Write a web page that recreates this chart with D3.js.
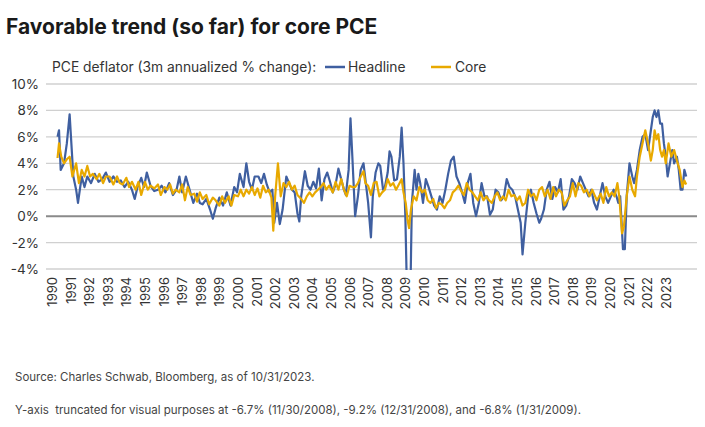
<!DOCTYPE html>
<html><head><meta charset="utf-8">
<script src="https://cdn.jsdelivr.net/npm/d3@7"></script>
<style>body{margin:0;background:#fff;font-family:Inter,Roboto,sans-serif}</style>
</head><body><svg id="c" width="705" height="427"></svg>
<script>
const headline = [[1990.0,6.0],[1990.08,6.5],[1990.17,3.5],[1990.35,4.0],[1990.5,5.5],[1990.65,7.7],[1990.85,3.0],[1991.0,2.0],[1991.1,1.0],[1991.3,3.0],[1991.45,2.2],[1991.6,3.0],[1991.8,2.5],[1992.0,3.2],[1992.2,2.6],[1992.4,2.8],[1992.6,3.3],[1992.8,2.6],[1993.0,3.0],[1993.2,2.6],[1993.4,2.7],[1993.6,2.2],[1993.8,2.6],[1994.0,2.0],[1994.15,1.3],[1994.3,2.2],[1994.5,2.9],[1994.65,2.2],[1994.8,3.3],[1995.0,2.3],[1995.2,1.9],[1995.4,2.0],[1995.6,2.3],[1995.8,1.8],[1996.0,2.5],[1996.2,1.6],[1996.4,2.0],[1996.55,3.0],[1996.7,1.8],[1996.9,3.0],[1997.1,2.0],[1997.3,1.0],[1997.5,1.7],[1997.65,1.0],[1997.8,0.9],[1998.0,1.3],[1998.2,0.5],[1998.35,-0.2],[1998.5,0.6],[1998.7,1.4],[1998.9,0.8],[1999.1,1.8],[1999.3,0.8],[1999.5,2.2],[1999.65,1.8],[1999.8,3.2],[2000.0,2.2],[2000.15,4.0],[2000.3,2.6],[2000.45,2.0],[2000.6,3.0],[2000.8,3.0],[2000.95,2.5],[2001.1,3.2],[2001.25,2.4],[2001.4,1.8],[2001.55,2.0],[2001.65,-0.5],[2001.8,1.0],[2001.95,-0.6],[2002.1,0.5],[2002.3,3.0],[2002.45,2.5],[2002.6,2.0],[2002.75,1.8],[2002.9,0.2],[2003.0,-0.4],[2003.1,1.5],[2003.3,3.4],[2003.45,2.3],[2003.6,2.0],[2003.75,2.6],[2003.9,2.1],[2004.05,3.6],[2004.2,1.2],[2004.35,2.8],[2004.5,3.3],[2004.65,2.6],[2004.8,1.8],[2004.95,2.4],[2005.1,3.6],[2005.25,2.8],[2005.4,2.0],[2005.5,1.6],[2005.65,3.5],[2005.75,7.4],[2005.85,4.5],[2006.0,0.0],[2006.15,1.5],[2006.3,3.5],[2006.45,4.0],[2006.55,2.8],[2006.7,1.0],[2006.85,-1.6],[2006.95,1.5],[2007.1,3.3],[2007.25,4.0],[2007.35,3.8],[2007.5,2.0],[2007.6,2.2],[2007.75,3.3],[2007.85,4.9],[2007.95,4.5],[2008.1,2.7],[2008.25,2.8],[2008.4,4.5],[2008.5,6.7],[2008.6,4.0],[2008.7,0.0],[2008.8,-6.7],[2008.88,-9.2],[2008.96,-6.8],[2009.05,1.0],[2009.2,3.5],[2009.3,2.0],[2009.4,3.2],[2009.5,2.5],[2009.65,1.0],[2009.8,2.8],[2009.95,2.2],[2010.1,1.5],[2010.25,0.8],[2010.4,0.5],[2010.55,1.5],[2010.7,1.0],[2010.85,2.0],[2011.0,3.2],[2011.15,4.2],[2011.3,4.5],[2011.45,3.0],[2011.6,2.5],[2011.75,1.8],[2011.9,1.0],[2012.05,2.5],[2012.2,3.2],[2012.35,1.0],[2012.5,0.0],[2012.65,1.0],[2012.8,2.5],[2012.95,1.5],[2013.1,1.5],[2013.25,0.1],[2013.4,0.5],[2013.55,2.0],[2013.7,1.8],[2013.85,1.2],[2014.0,1.5],[2014.15,2.8],[2014.3,2.2],[2014.45,2.0],[2014.6,1.5],[2014.75,0.5],[2014.9,-0.5],[2015.0,-2.9],[2015.15,-0.5],[2015.3,1.5],[2015.45,2.0],[2015.6,1.0],[2015.75,0.2],[2015.9,-0.5],[2016.0,-0.2],[2016.15,0.5],[2016.3,2.0],[2016.45,2.6],[2016.6,1.3],[2016.75,2.2],[2016.9,1.8],[2017.05,2.8],[2017.2,0.5],[2017.35,0.8],[2017.5,1.5],[2017.65,2.8],[2017.8,2.5],[2017.95,2.0],[2018.1,3.0],[2018.25,2.5],[2018.4,2.0],[2018.55,1.5],[2018.7,2.0],[2018.85,1.0],[2019.0,0.5],[2019.15,1.5],[2019.3,2.5],[2019.45,1.5],[2019.6,1.0],[2019.75,1.5],[2019.9,2.0],[2020.05,1.5],[2020.15,1.0],[2020.25,1.5],[2020.4,-2.5],[2020.5,-2.5],[2020.6,1.5],[2020.75,4.0],[2020.9,3.0],[2021.0,2.5],[2021.15,3.5],[2021.3,5.0],[2021.45,6.0],[2021.6,6.2],[2021.75,5.0],[2021.9,6.5],[2022.0,7.5],[2022.1,8.0],[2022.2,7.5],[2022.3,8.0],[2022.4,7.0],[2022.5,7.0],[2022.6,5.5],[2022.7,4.5],[2022.8,3.0],[2022.95,4.2],[2023.05,5.0],[2023.15,4.0],[2023.3,4.5],[2023.4,3.5],[2023.5,2.0],[2023.6,2.0],[2023.7,3.5],[2023.8,3.0]];
const core = [[1990.0,4.4],[1990.08,5.5],[1990.2,4.5],[1990.35,4.0],[1990.5,4.3],[1990.65,4.5],[1990.8,3.0],[1991.0,4.0],[1991.15,2.5],[1991.3,3.5],[1991.45,3.0],[1991.6,3.8],[1991.75,3.0],[1991.9,3.2],[1992.1,2.8],[1992.25,3.2],[1992.45,2.5],[1992.6,3.0],[1992.8,3.0],[1993.0,2.4],[1993.2,3.0],[1993.35,2.5],[1993.5,2.4],[1993.7,2.9],[1993.85,2.2],[1994.0,2.6],[1994.2,2.0],[1994.35,2.6],[1994.5,1.6],[1994.7,2.6],[1994.85,2.0],[1995.0,2.3],[1995.2,2.1],[1995.4,2.4],[1995.55,1.6],[1995.75,2.2],[1995.9,2.0],[1996.05,2.4],[1996.2,1.7],[1996.35,2.0],[1996.55,1.8],[1996.7,2.4],[1996.85,1.2],[1997.0,2.2],[1997.15,1.6],[1997.35,1.7],[1997.5,1.1],[1997.65,1.8],[1997.8,1.3],[1998.0,1.6],[1998.15,0.9],[1998.35,1.4],[1998.5,1.2],[1998.7,0.8],[1998.85,1.5],[1999.0,1.0],[1999.2,1.5],[1999.35,0.8],[1999.5,1.6],[1999.7,1.5],[1999.85,2.0],[2000.0,1.5],[2000.15,2.0],[2000.3,1.7],[2000.45,2.2],[2000.6,1.6],[2000.75,2.1],[2000.9,1.4],[2001.05,2.3],[2001.2,1.8],[2001.35,2.0],[2001.5,1.4],[2001.6,-1.1],[2001.7,1.5],[2001.85,4.0],[2002.0,1.5],[2002.15,2.5],[2002.3,2.2],[2002.45,2.6],[2002.6,2.0],[2002.75,2.3],[2002.9,1.6],[2003.1,1.3],[2003.25,1.0],[2003.4,1.5],[2003.55,1.8],[2003.7,1.5],[2003.85,1.8],[2004.0,2.0],[2004.15,2.2],[2004.3,2.5],[2004.45,2.0],[2004.6,2.3],[2004.8,1.8],[2004.95,2.6],[2005.1,2.0],[2005.25,2.8],[2005.4,2.0],[2005.55,1.5],[2005.7,2.3],[2005.85,2.2],[2006.0,2.2],[2006.15,2.5],[2006.3,3.0],[2006.45,3.4],[2006.55,2.5],[2006.7,2.3],[2006.85,1.6],[2007.0,2.5],[2007.15,2.6],[2007.3,1.5],[2007.45,1.8],[2007.6,2.0],[2007.75,2.8],[2007.9,2.3],[2008.05,2.5],[2008.2,2.0],[2008.35,2.4],[2008.5,2.8],[2008.6,1.8],[2008.72,1.0],[2008.82,-0.3],[2008.9,-0.9],[2009.0,0.5],[2009.15,1.5],[2009.3,1.2],[2009.45,2.2],[2009.6,1.8],[2009.75,2.0],[2009.9,1.2],[2010.05,1.0],[2010.2,1.3],[2010.35,0.6],[2010.5,1.0],[2010.65,0.9],[2010.8,0.6],[2010.95,1.0],[2011.1,1.2],[2011.25,1.8],[2011.4,2.0],[2011.55,2.3],[2011.7,1.9],[2011.85,1.6],[2012.0,2.5],[2012.15,2.0],[2012.3,1.8],[2012.45,1.5],[2012.6,1.2],[2012.75,1.8],[2012.9,1.2],[2013.05,1.5],[2013.2,1.2],[2013.35,1.0],[2013.5,1.5],[2013.65,1.8],[2013.8,1.2],[2013.95,1.5],[2014.1,1.2],[2014.25,2.0],[2014.4,1.5],[2014.55,1.6],[2014.7,1.2],[2014.85,1.5],[2015.0,0.8],[2015.15,1.0],[2015.3,2.0],[2015.45,1.5],[2015.6,1.7],[2015.75,1.2],[2015.9,2.0],[2016.05,2.2],[2016.2,1.5],[2016.35,2.0],[2016.5,1.3],[2016.65,2.2],[2016.8,1.5],[2016.95,2.0],[2017.1,1.8],[2017.25,0.8],[2017.4,1.2],[2017.55,1.5],[2017.7,2.5],[2017.85,1.5],[2018.0,2.5],[2018.15,2.3],[2018.3,1.8],[2018.45,2.0],[2018.6,1.5],[2018.75,2.0],[2018.9,1.5],[2019.0,1.2],[2019.2,1.7],[2019.35,1.0],[2019.5,2.2],[2019.65,1.5],[2019.8,1.8],[2019.95,1.5],[2020.1,2.5],[2020.2,1.5],[2020.35,-1.3],[2020.45,-0.8],[2020.6,1.5],[2020.75,3.0],[2020.9,2.0],[2021.05,1.5],[2021.15,3.0],[2021.3,4.5],[2021.45,5.5],[2021.6,6.5],[2021.75,5.5],[2021.9,4.2],[2022.0,5.0],[2022.1,6.5],[2022.2,5.8],[2022.3,6.2],[2022.4,5.0],[2022.5,4.5],[2022.6,5.0],[2022.7,4.0],[2022.85,5.5],[2023.0,4.5],[2023.15,5.0],[2023.3,4.2],[2023.45,3.5],[2023.6,2.2],[2023.7,2.7],[2023.8,2.4]];
const years = d3.range(1990, 2024);
const yTicks = [-4,-2,0,2,4,6,8,10];

const svg = d3.select("#c");
const x = d3.scaleLinear().domain([1989.38, 2024.38]).range([46, 697]);
const y = d3.scaleLinear().domain([-4, 10]).range([269, 84]);

svg.append("text").attr("x",6).attr("y",34).attr("font-size",21).attr("font-weight",700)
  .attr("fill","#1a1a1a").text("Favorable trend (so far) for core PCE");

yTicks.forEach(v=>{
  svg.append("line").attr("x1",46).attr("x2",697).attr("y1",y(v)).attr("y2",y(v))
    .attr("stroke", v===0?"#8a8a8a":"#d0d0d0").attr("stroke-width", v===0?2:1.3);
  svg.append("text").attr("x",39).attr("y",y(v)+5).attr("text-anchor","end")
    .attr("font-size",13.5).attr("fill","#333").text(v+"%");
});
years.forEach(yr=>{
  svg.append("text").attr("transform",`translate(${x(yr-0.3)+5},277) rotate(-90)`)
    .attr("text-anchor","end").attr("font-size",13).attr("fill","#333").text(yr);
});

svg.append("clipPath").attr("id","cp").append("rect").attr("x",46).attr("y",70).attr("width",651).attr("height",y(-4)-70+1);
const line = d3.line().x(d=>x(d[0])).y(d=>y(d[1]));
const g = svg.append("g").attr("clip-path","url(#cp)");
g.append("path").datum(headline).attr("d",line).attr("fill","none").attr("stroke","#3f5fa0").attr("stroke-width",2.2).attr("stroke-linejoin","round");
g.append("path").datum(core).attr("d",line).attr("fill","none").attr("stroke","#e8a900").attr("stroke-width",2.2).attr("stroke-linejoin","round");

const lg = svg.append("g").attr("font-size",13.8).attr("fill","#333");
lg.append("text").attr("x",52).attr("y",72).text("PCE deflator (3m annualized % change):");
lg.append("line").attr("x1",325).attr("x2",345).attr("y1",67).attr("y2",67).attr("stroke","#3f5fa0").attr("stroke-width",2.5);
lg.append("text").attr("x",348).attr("y",72).text("Headline");
lg.append("line").attr("x1",431).attr("x2",451).attr("y1",67).attr("y2",67).attr("stroke","#e8a900").attr("stroke-width",2.5);
lg.append("text").attr("x",455).attr("y",72).text("Core");

svg.append("text").attr("x",15).attr("y",381).attr("font-size",11.5).attr("fill","#444").text("Source: Charles Schwab, Bloomberg, as of 10/31/2023.");
svg.append("text").attr("x",15).attr("y",414).attr("font-size",11.5).attr("fill","#444").attr("xml:space","preserve").text("Y-axis  truncated for visual purposes at -6.7% (11/30/2008), -9.2% (12/31/2008), and -6.8% (1/31/2009).");
</script></body></html>
